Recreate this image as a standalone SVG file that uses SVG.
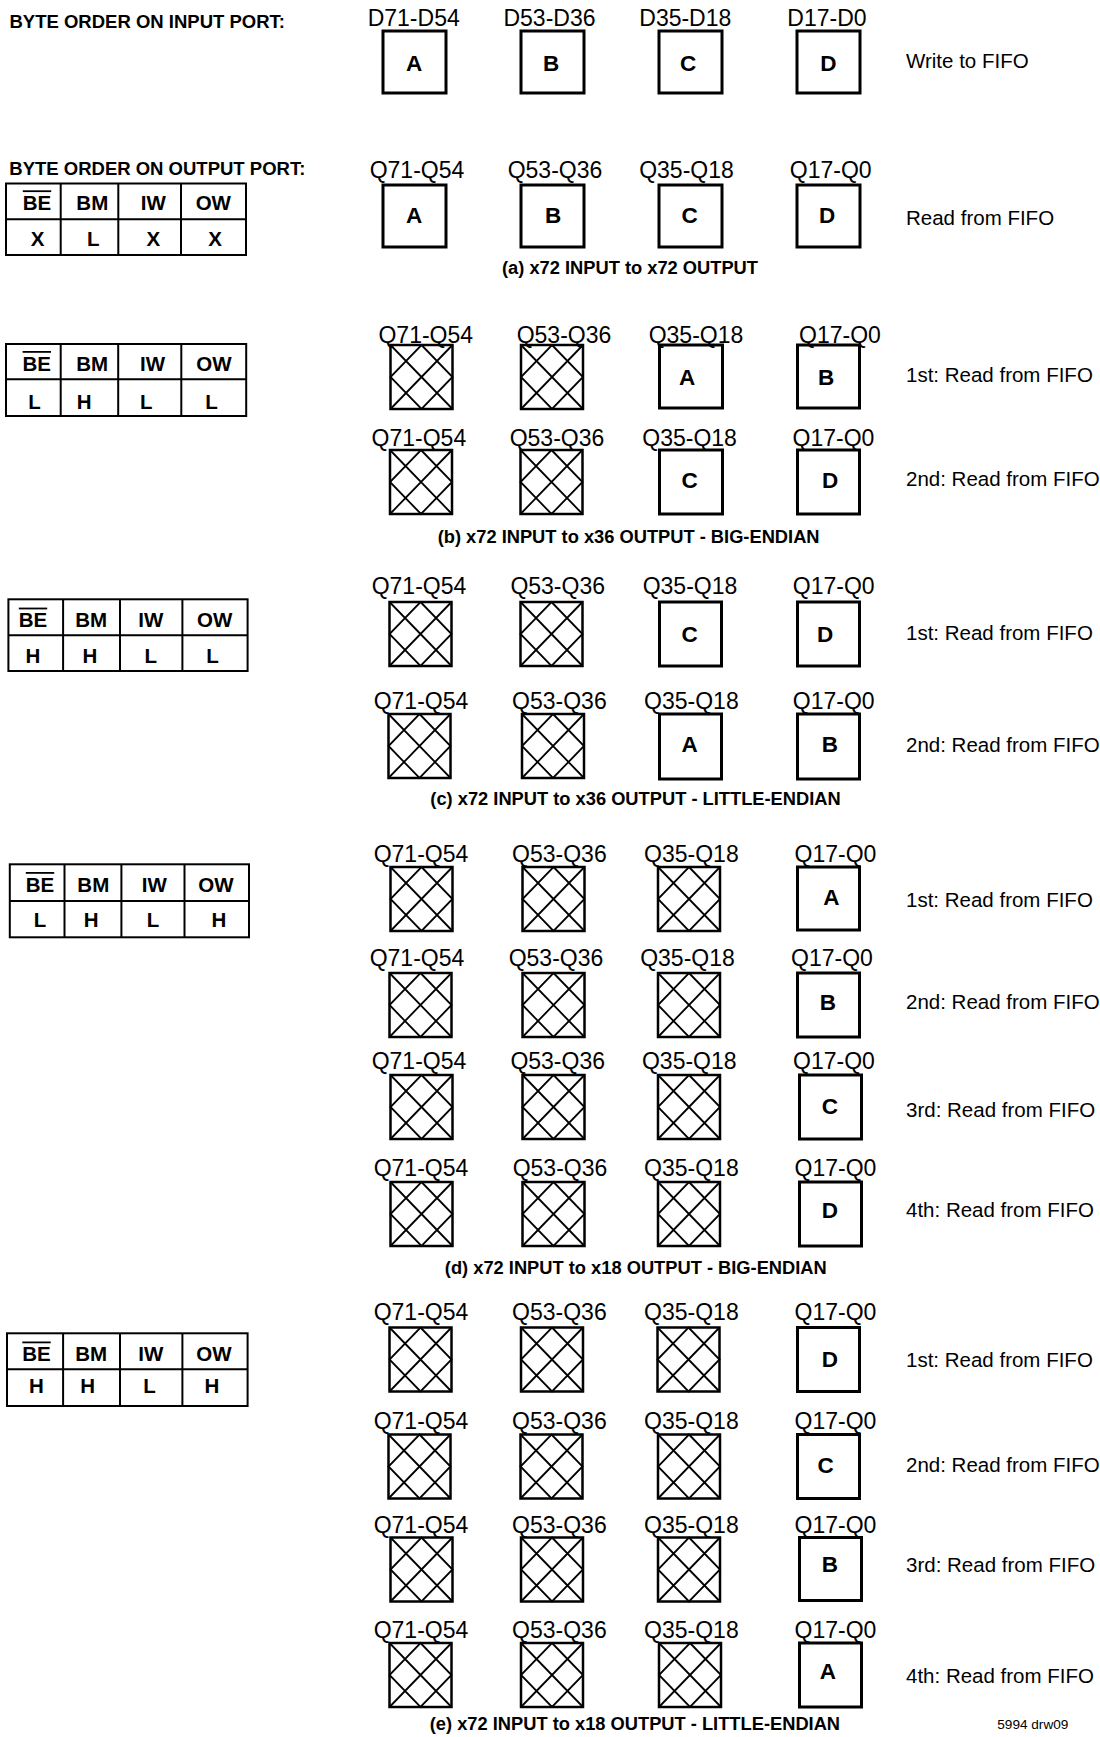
<svg xmlns="http://www.w3.org/2000/svg" xmlns:xlink="http://www.w3.org/1999/xlink" width="1100" height="1737" viewBox="0 0 1100 1737">
<style>
text{font-family:"Liberation Sans",Arial,Helvetica,sans-serif;fill:#000}
.lbl{font-size:23px;text-anchor:middle}
.ltr{font-size:22.5px;font-weight:bold;text-anchor:middle}
.side{font-size:20.5px}
.cap{font-size:18.3px;font-weight:bold;text-anchor:middle}
.hdr{font-size:18.5px;font-weight:bold}
.tb{font-size:20.5px;font-weight:bold;text-anchor:middle}
.note{font-size:13.6px}
.box{fill:#fff;stroke:#000;stroke-width:3}
.tbl rect{fill:none;stroke:#000;stroke-width:2}
.tbl line{stroke:#000;stroke-width:2}
.tbl line.ov{stroke-width:1.8}
</style>
<defs>
<g id="xbox">
<rect x="0" y="0" width="62" height="64" fill="#fff" stroke="#000" stroke-width="2.5"/>
<path d="M0 0L62 64M62 0L0 64M31 0L62 32L31 64L0 32Z" fill="none" stroke="#000" stroke-width="1.8"/>
</g>
</defs>
<rect x="0" y="0" width="1100" height="1737" fill="#fff"/>

<text class="hdr" x="9.5" y="28.3">BYTE ORDER ON INPUT PORT:</text>
<text class="hdr" x="9.3" y="175">BYTE ORDER ON OUTPUT PORT:</text>

<!-- tables -->
<g id="table-a" class="tbl">
<rect x="6" y="183.5" width="240" height="71.5"/>
<line x1="6" y1="219.3" x2="246" y2="219.3"/>
<line x1="60.7" y1="183.5" x2="60.7" y2="255"/><line x1="118.3" y1="183.5" x2="118.3" y2="255"/><line x1="181" y1="183.5" x2="181" y2="255"/>
<text class="tb" x="37" y="209.8">BE</text><line class="ov" x1="22.8" y1="191.2" x2="51.2" y2="191.2"/>
<text class="tb" x="92.3" y="209.8">BM</text><text class="tb" x="153.3" y="209.8">IW</text><text class="tb" x="213.3" y="209.8">OW</text>
<text class="tb" x="37.7" y="245.5">X</text><text class="tb" x="93.3" y="245.5">L</text><text class="tb" x="153.3" y="245.5">X</text><text class="tb" x="215" y="245.5">X</text>
</g>
<g id="table-b" class="tbl">
<rect x="6" y="344" width="240.2" height="72"/>
<line x1="6" y1="379.3" x2="246.2" y2="379.3"/>
<line x1="60.7" y1="344" x2="60.7" y2="416"/><line x1="118.2" y1="344" x2="118.2" y2="416"/><line x1="181.3" y1="344" x2="181.3" y2="416"/>
<text class="tb" x="36.8" y="370.5">BE</text><line class="ov" x1="22.6" y1="351.9" x2="51" y2="351.9"/>
<text class="tb" x="92.2" y="370.5">BM</text><text class="tb" x="152.6" y="370.5">IW</text><text class="tb" x="214" y="370.5">OW</text>
<text class="tb" x="34.4" y="408.5">L</text><text class="tb" x="84.2" y="408.5">H</text><text class="tb" x="146.3" y="408.5">L</text><text class="tb" x="211.5" y="408.5">L</text>
</g>
<g id="table-c" class="tbl">
<rect x="8.4" y="599.3" width="239.2" height="71.7"/>
<line x1="8.4" y1="635.3" x2="247.6" y2="635.3"/>
<line x1="63.1" y1="599.3" x2="63.1" y2="671"/><line x1="120" y1="599.3" x2="120" y2="671"/><line x1="182.4" y1="599.3" x2="182.4" y2="671"/>
<text class="tb" x="33" y="627">BE</text><line class="ov" x1="18.8" y1="608.5" x2="47.2" y2="608.5"/>
<text class="tb" x="91.2" y="627">BM</text><text class="tb" x="150.8" y="627">IW</text><text class="tb" x="214.7" y="627">OW</text>
<text class="tb" x="33" y="662.5">H</text><text class="tb" x="89.8" y="662.5">H</text><text class="tb" x="150.8" y="662.5">L</text><text class="tb" x="212.6" y="662.5">L</text>
</g>
<g id="table-d" class="tbl">
<rect x="9.8" y="864.3" width="239.2" height="73"/>
<line x1="9.8" y1="901" x2="249" y2="901"/>
<line x1="64.5" y1="864.3" x2="64.5" y2="937.3"/><line x1="121.4" y1="864.3" x2="121.4" y2="937.3"/><line x1="184.5" y1="864.3" x2="184.5" y2="937.3"/>
<text class="tb" x="40" y="891.5">BE</text><line class="ov" x1="25.8" y1="872.9" x2="54.2" y2="872.9"/>
<text class="tb" x="93.3" y="891.5">BM</text><text class="tb" x="154.3" y="891.5">IW</text><text class="tb" x="216" y="891.5">OW</text>
<text class="tb" x="40" y="926.5">L</text><text class="tb" x="91.2" y="926.5">H</text><text class="tb" x="153" y="926.5">L</text><text class="tb" x="218.9" y="926.5">H</text>
</g>
<g id="table-e" class="tbl">
<rect x="7" y="1333.3" width="240.6" height="72.7"/>
<line x1="7" y1="1369.3" x2="247.6" y2="1369.3"/>
<line x1="63.1" y1="1333.3" x2="63.1" y2="1406"/><line x1="120" y1="1333.3" x2="120" y2="1406"/><line x1="182.4" y1="1333.3" x2="182.4" y2="1406"/>
<text class="tb" x="36.5" y="1361">BE</text><line class="ov" x1="22.3" y1="1342.4" x2="50.7" y2="1342.4"/>
<text class="tb" x="91.2" y="1361">BM</text><text class="tb" x="150.8" y="1361">IW</text><text class="tb" x="214" y="1361">OW</text>
<text class="tb" x="36.5" y="1393">H</text><text class="tb" x="87.7" y="1393">H</text><text class="tb" x="149.4" y="1393">L</text><text class="tb" x="211.9" y="1393">H</text>
</g>

<!-- (a) -->
<g id="a1-1"><rect class="box" x="383" y="31" width="63" height="62"/><text class="lbl" x="413.7" y="25.5">D71-D54</text><text class="ltr" x="414" y="70.5">A</text></g>
<g id="a1-2"><rect class="box" x="521" y="31" width="63" height="62"/><text class="lbl" x="549.5" y="25.5">D53-D36</text><text class="ltr" x="551" y="70.5">B</text></g>
<g id="a1-3"><rect class="box" x="659" y="31" width="63" height="62"/><text class="lbl" x="685.3" y="25.5">D35-D18</text><text class="ltr" x="688" y="70.5">C</text></g>
<g id="a1-4"><rect class="box" x="797" y="31" width="63" height="62"/><text class="lbl" x="827" y="25.5">D17-D0</text><text class="ltr" x="828.3" y="70.5">D</text></g>
<text class="side" x="906" y="67.7">Write to FIFO</text>

<g id="a2-1"><rect class="box" x="383" y="185" width="63" height="62"/><text class="lbl" x="417" y="178.3">Q71-Q54</text><text class="ltr" x="414" y="223.3">A</text></g>
<g id="a2-2"><rect class="box" x="521" y="185" width="63" height="62"/><text class="lbl" x="555" y="178.3">Q53-Q36</text><text class="ltr" x="553" y="223.3">B</text></g>
<g id="a2-3"><rect class="box" x="659" y="185" width="63" height="62"/><text class="lbl" x="686.5" y="178.3">Q35-Q18</text><text class="ltr" x="689.6" y="223.3">C</text></g>
<g id="a2-4"><rect class="box" x="797" y="185" width="63" height="62"/><text class="lbl" x="830.7" y="178.3">Q17-Q0</text><text class="ltr" x="827" y="223.3">D</text></g>
<text class="side" x="906" y="225">Read from FIFO</text>
<text class="cap" x="630" y="274">(a) x72 INPUT to x72 OUTPUT</text>

<!-- (b) -->
<g id="b1-1"><use xlink:href="#xbox" x="390.5" y="345"/><text class="lbl" x="425.8" y="342.7">Q71-Q54</text></g>
<g id="b1-2"><use xlink:href="#xbox" x="521" y="345"/><text class="lbl" x="564" y="342.7">Q53-Q36</text></g>
<g id="b1-3"><rect class="box" x="659.5" y="345" width="63" height="63"/><text class="lbl" x="696" y="342.7">Q35-Q18</text><text class="ltr" x="687" y="385">A</text></g>
<g id="b1-4"><rect class="box" x="797.5" y="345" width="62" height="63"/><text class="lbl" x="840" y="342.7">Q17-Q0</text><text class="ltr" x="826" y="385">B</text></g>
<text class="side" x="906" y="382.3">1st: Read from FIFO</text>

<g id="b2-1"><use xlink:href="#xbox" x="390" y="450"/><text class="lbl" x="418.9" y="445.7">Q71-Q54</text></g>
<g id="b2-2"><use xlink:href="#xbox" x="520.5" y="450"/><text class="lbl" x="557" y="445.7">Q53-Q36</text></g>
<g id="b2-3"><rect class="box" x="659.5" y="450" width="63" height="64"/><text class="lbl" x="689.6" y="445.7">Q35-Q18</text><text class="ltr" x="689.6" y="488.3">C</text></g>
<g id="b2-4"><rect class="box" x="797.5" y="450" width="62" height="64"/><text class="lbl" x="833.5" y="445.7">Q17-Q0</text><text class="ltr" x="830" y="488.3">D</text></g>
<text class="side" x="906" y="486">2nd: Read from FIFO</text>
<text class="cap" x="628.6" y="542.7">(b) x72 INPUT to x36 OUTPUT - BIG-ENDIAN</text>

<!-- (c) -->
<g id="c1-1"><use xlink:href="#xbox" x="389.5" y="602"/><text class="lbl" x="419" y="594.3">Q71-Q54</text></g>
<g id="c1-2"><use xlink:href="#xbox" x="520.5" y="602"/><text class="lbl" x="557.7" y="594.3">Q53-Q36</text></g>
<g id="c1-3"><rect class="box" x="659.5" y="602" width="62" height="64"/><text class="lbl" x="690" y="594.3">Q35-Q18</text><text class="ltr" x="689.6" y="641.7">C</text></g>
<g id="c1-4"><rect class="box" x="797.5" y="602" width="62" height="64"/><text class="lbl" x="833.7" y="594.3">Q17-Q0</text><text class="ltr" x="825" y="641.7">D</text></g>
<text class="side" x="906" y="640">1st: Read from FIFO</text>

<g id="c2-1"><use xlink:href="#xbox" x="388.5" y="714"/><text class="lbl" x="421" y="709">Q71-Q54</text></g>
<g id="c2-2"><use xlink:href="#xbox" x="522" y="714"/><text class="lbl" x="559.4" y="709">Q53-Q36</text></g>
<g id="c2-3"><rect class="box" x="659.5" y="714" width="62" height="65"/><text class="lbl" x="691.4" y="709">Q35-Q18</text><text class="ltr" x="689.6" y="752.3">A</text></g>
<g id="c2-4"><rect class="box" x="797.5" y="714" width="62" height="65"/><text class="lbl" x="833.7" y="709">Q17-Q0</text><text class="ltr" x="829.9" y="752.3">B</text></g>
<text class="side" x="906" y="752.3">2nd: Read from FIFO</text>
<text class="cap" x="635.5" y="805">(c) x72 INPUT to x36 OUTPUT - LITTLE-ENDIAN</text>

<!-- (d) -->
<g id="d1-1"><use xlink:href="#xbox" x="390.5" y="867"/><text class="lbl" x="421" y="861.7">Q71-Q54</text></g>
<g id="d1-2"><use xlink:href="#xbox" x="522.5" y="867"/><text class="lbl" x="559.4" y="861.7">Q53-Q36</text></g>
<g id="d1-3"><use xlink:href="#xbox" x="658" y="867"/><text class="lbl" x="691.4" y="861.7">Q35-Q18</text></g>
<g id="d1-4"><rect class="box" x="797.5" y="867" width="62" height="63"/><text class="lbl" x="835.5" y="861.7">Q17-Q0</text><text class="ltr" x="831.3" y="905">A</text></g>
<text class="side" x="906" y="907.3">1st: Read from FIFO</text>

<g id="d2-1"><use xlink:href="#xbox" x="389.5" y="973"/><text class="lbl" x="417" y="965.7">Q71-Q54</text></g>
<g id="d2-2"><use xlink:href="#xbox" x="522.5" y="973"/><text class="lbl" x="556" y="965.7">Q53-Q36</text></g>
<g id="d2-3"><use xlink:href="#xbox" x="658" y="973"/><text class="lbl" x="687.5" y="965.7">Q35-Q18</text></g>
<g id="d2-4"><rect class="box" x="797.5" y="973" width="62" height="64"/><text class="lbl" x="832" y="965.7">Q17-Q0</text><text class="ltr" x="827.8" y="1010">B</text></g>
<text class="side" x="906" y="1009">2nd: Read from FIFO</text>

<g id="d3-1"><use xlink:href="#xbox" x="390.5" y="1075"/><text class="lbl" x="419" y="1069.3">Q71-Q54</text></g>
<g id="d3-2"><use xlink:href="#xbox" x="522.5" y="1075"/><text class="lbl" x="557.7" y="1069.3">Q53-Q36</text></g>
<g id="d3-3"><use xlink:href="#xbox" x="658" y="1075"/><text class="lbl" x="689.3" y="1069.3">Q35-Q18</text></g>
<g id="d3-4"><rect class="box" x="799.5" y="1075" width="62" height="64"/><text class="lbl" x="834" y="1069.3">Q17-Q0</text><text class="ltr" x="829.9" y="1114">C</text></g>
<text class="side" x="906" y="1117.3">3rd: Read from FIFO</text>

<g id="d4-1"><use xlink:href="#xbox" x="390.5" y="1182"/><text class="lbl" x="421" y="1176">Q71-Q54</text></g>
<g id="d4-2"><use xlink:href="#xbox" x="522.5" y="1182"/><text class="lbl" x="560" y="1176">Q53-Q36</text></g>
<g id="d4-3"><use xlink:href="#xbox" x="658" y="1182"/><text class="lbl" x="691.4" y="1176">Q35-Q18</text></g>
<g id="d4-4"><rect class="box" x="799.5" y="1182" width="62" height="64"/><text class="lbl" x="835.5" y="1176">Q17-Q0</text><text class="ltr" x="829.9" y="1218.3">D</text></g>
<text class="side" x="906" y="1217.3">4th: Read from FIFO</text>
<text class="cap" x="635.8" y="1274">(d) x72 INPUT to x18 OUTPUT - BIG-ENDIAN</text>

<!-- (e) -->
<g id="e1-1"><use xlink:href="#xbox" x="389.5" y="1327.5"/><text class="lbl" x="421" y="1320">Q71-Q54</text></g>
<g id="e1-2"><use xlink:href="#xbox" x="521" y="1327.5"/><text class="lbl" x="559.4" y="1320">Q53-Q36</text></g>
<g id="e1-3"><use xlink:href="#xbox" x="657.5" y="1327.5"/><text class="lbl" x="691.4" y="1320">Q35-Q18</text></g>
<g id="e1-4"><rect class="box" x="797.5" y="1327.5" width="62" height="64"/><text class="lbl" x="835.5" y="1320">Q17-Q0</text><text class="ltr" x="829.9" y="1366.7">D</text></g>
<text class="side" x="906" y="1367.3">1st: Read from FIFO</text>

<g id="e2-1"><use xlink:href="#xbox" x="388.5" y="1434.5"/><text class="lbl" x="421" y="1429.3">Q71-Q54</text></g>
<g id="e2-2"><use xlink:href="#xbox" x="520.5" y="1434.5"/><text class="lbl" x="559.4" y="1429.3">Q53-Q36</text></g>
<g id="e2-3"><use xlink:href="#xbox" x="658" y="1434.5"/><text class="lbl" x="691.4" y="1429.3">Q35-Q18</text></g>
<g id="e2-4"><rect class="box" x="797.5" y="1434.5" width="62" height="64"/><text class="lbl" x="835.5" y="1429.3">Q17-Q0</text><text class="ltr" x="825.7" y="1473.3">C</text></g>
<text class="side" x="906" y="1472.3">2nd: Read from FIFO</text>

<g id="e3-1"><use xlink:href="#xbox" x="390.5" y="1537.5"/><text class="lbl" x="421" y="1532.7">Q71-Q54</text></g>
<g id="e3-2"><use xlink:href="#xbox" x="521" y="1537.5"/><text class="lbl" x="559.4" y="1532.7">Q53-Q36</text></g>
<g id="e3-3"><use xlink:href="#xbox" x="658" y="1537.5"/><text class="lbl" x="691.4" y="1532.7">Q35-Q18</text></g>
<g id="e3-4"><rect class="box" x="799.5" y="1537.5" width="62" height="63"/><text class="lbl" x="835.5" y="1532.7">Q17-Q0</text><text class="ltr" x="829.9" y="1571.7">B</text></g>
<text class="side" x="906" y="1571.7">3rd: Read from FIFO</text>

<g id="e4-1"><use xlink:href="#xbox" x="389.5" y="1643"/><text class="lbl" x="421" y="1637.7">Q71-Q54</text></g>
<g id="e4-2"><use xlink:href="#xbox" x="521" y="1643"/><text class="lbl" x="559.4" y="1637.7">Q53-Q36</text></g>
<g id="e4-3"><use xlink:href="#xbox" x="659" y="1643"/><text class="lbl" x="691.4" y="1637.7">Q35-Q18</text></g>
<g id="e4-4"><rect class="box" x="799.5" y="1643" width="62" height="64"/><text class="lbl" x="835.5" y="1637.7">Q17-Q0</text><text class="ltr" x="827.8" y="1679.3">A</text></g>
<text class="side" x="906" y="1682.7">4th: Read from FIFO</text>
<text class="cap" x="634.9" y="1730">(e) x72 INPUT to x18 OUTPUT - LITTLE-ENDIAN</text>
<text class="note" x="997.3" y="1729">5994 drw09</text>

<g id="connectors"/>
</svg>
